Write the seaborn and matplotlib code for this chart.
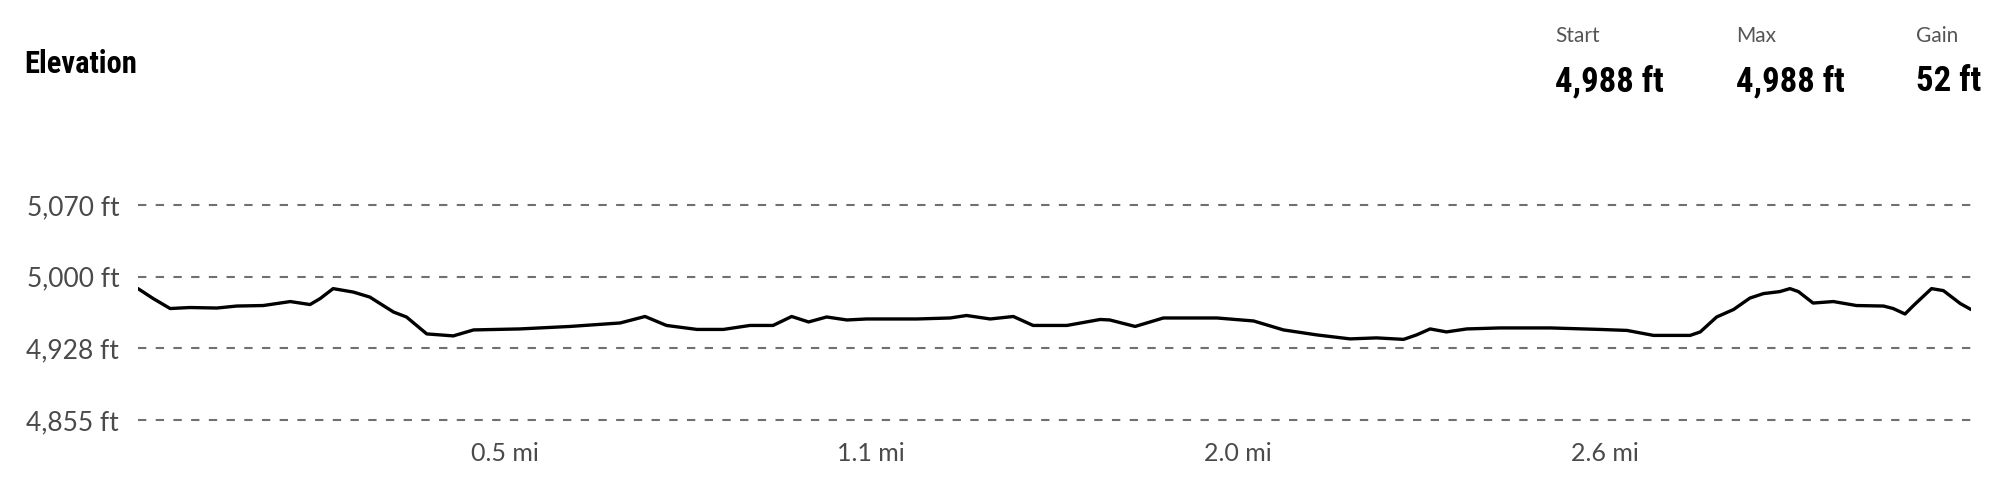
import numpy as np
import pandas as pd
import seaborn as sns
import matplotlib.pyplot as plt
from matplotlib import font_manager

# elevation profile (distance in mi, elevation in ft)
distance = [0.0, 0.027, 0.057, 0.092, 0.140, 0.175, 0.222, 0.270, 0.305, 0.323,
            0.346, 0.382, 0.411, 0.453, 0.476, 0.512, 0.559, 0.595, 0.677, 0.766,
            0.855, 0.899, 0.937, 0.991, 1.038, 1.085, 1.126, 1.159, 1.189, 1.221,
            1.257, 1.292, 1.381, 1.440, 1.469, 1.511, 1.552, 1.587, 1.647, 1.706,
            1.723, 1.768, 1.818, 1.913, 1.978, 2.031, 2.090, 2.149, 2.196, 2.244,
            2.267, 2.291, 2.320, 2.356, 2.415, 2.504, 2.592, 2.640, 2.687, 2.752,
            2.770, 2.799, 2.829, 2.858, 2.882, 2.911, 2.929, 2.944, 2.970, 3.006,
            3.047, 3.095, 3.112, 3.133, 3.148, 3.180, 3.201, 3.231, 3.250]
elevation = [4988, 4978, 4968, 4969, 4968.5, 4970.5, 4971, 4975, 4972, 4978,
             4988, 4984.5, 4979.5, 4964.5, 4959.5, 4942.5, 4940.5, 4946.5, 4947.5, 4950,
             4953.5, 4960, 4951, 4947, 4947, 4951, 4951, 4960, 4954.5, 4959.5,
             4956.5, 4957.5, 4957.5, 4958.5, 4961, 4957.5, 4960, 4951, 4951, 4957,
             4956.5, 4950, 4958.5, 4958.5, 4955.5, 4946.5, 4941.5, 4937.5, 4938.5, 4937,
             4941.5, 4947.5, 4944.5, 4947.5, 4948.5, 4948.5, 4947, 4946, 4941, 4941,
             4944.5, 4959.5, 4967, 4978.5, 4983, 4985, 4988, 4985, 4973.5, 4975,
             4971, 4970.5, 4968, 4962.5, 4971, 4988, 4986, 4973, 4967]

y_ticks = [4856, 4928, 5000, 5072]
y_labels = ["4,855 ft", "4,928 ft", "5,000 ft", "5,070 ft"]
x_ticks = [0.65, 1.30, 1.95, 2.60]
x_labels = ["0.5 mi", "1.1 mi", "2.0 mi", "2.6 mi"]

stat_names = ["Start", "Max", "Gain"]
stat_values = ["4,988 ft", "4,988 ft", "52 ft"]

df = pd.DataFrame({"distance": distance, "elevation": elevation})

sns.set_theme(style="white")
plt.rcParams['font.family'] = ['Lato', 'DejaVu Sans']

# condensed bold face for the headline text
found = None
for f in font_manager.fontManager.ttflist:
    if "robotocondensed-bold." in f.fname.lower():
        found = f.fname
        break
if found:
    bold_font = dict(fontproperties=font_manager.FontProperties(fname=found))
else:
    bold_font = dict(family='DejaVu Sans', weight='bold')

fig = plt.figure(figsize=(20, 5.04), dpi=100)
ax = fig.add_axes([0.069, 0.1469, 0.9855 - 0.069, 0.6130 - 0.1469])

sns.lineplot(data=df, x="distance", y="elevation", color="black", linewidth=2.4,
             ax=ax, solid_joinstyle="round", solid_capstyle="round")

ax.set_xlim(0, 3.25)
ax.set_ylim(4846, 5082)
ax.set_yticks(y_ticks)
ax.set_yticklabels(y_labels)
ax.set_xticks(x_ticks)
ax.set_xticklabels(x_labels)
ax.set_xlabel("")
ax.set_ylabel("")
ax.yaxis.grid(True, linestyle=(0, (4, 4.5)), color="#707070", linewidth=1.5)
ax.xaxis.grid(False)
ax.set_axisbelow(True)
for s in ax.spines.values():
    s.set_visible(False)
ax.tick_params(axis="y", length=0, pad=13.5, labelsize=19, labelcolor="#4a4a4a")
ax.tick_params(axis="x", length=0, pad=9, labelsize=18, labelcolor="#4a4a4a")

fig.text(0.012, 0.855, "Elevation", fontsize=22, color="black", va="baseline", **bold_font)

stat_x = [0.7775, 0.868, 0.958]
for sx, name, val in zip(stat_x, stat_names, stat_values):
    fig.text(sx, 0.9167, name, fontsize=15, color="#555555", va="baseline")
    fig.text(sx, 0.8194, val, fontsize=25, color="black", va="baseline", **bold_font)

fig.savefig("out.png", dpi=100, facecolor="white")
